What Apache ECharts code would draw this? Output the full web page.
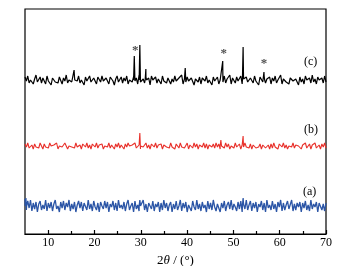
<!DOCTYPE html>
<html><head><meta charset="utf-8">
<script src="https://cdn.jsdelivr.net/npm/echarts@6/dist/echarts.min.js"></script>
<style>html,body{margin:0;padding:0;background:#fff}#c{width:346px;height:266px}</style>
</head><body><div id="c"></div>
<script>
// x range (2θ, degrees)
const xMin = 5, xMax = 70;
const majorTicks = [10, 20, 30, 40, 50, 60, 70];
const minorTicks = [15, 25, 35, 45, 55, 65];
// baselines (offset intensity units) for curves a, b, c
const baseA = 28, baseB = 88, baseC = 154;
const noiseC = [3,-1,4,-3,0,2,-4,1,5,-2,-1,3,-3,2,0,-4,4,-1,1,-5,
2,4,-2,0,-3,3,1,-4,2,-1,5,-3,0,2,-2,-4,3,1,-1,4,
-3,0,2,-5,3,-1,1,4,-2,-3,2,0,-4,3,1,-2,4,-1,-3,2,
0,-4,3,2,-1,-5,1,4,-2,0,3,-3,2,-1,4,-4,0,1,-2,3,
-1,2,-4,5,-2,0,1,-3,3,-1,2,-5,4,0,-2,3,-3,1,2,-4,
4,-1,0,-3,2,3,-4,1,-2,4,-1,-3,2,0,5,-4,1,-2,3,-1,
-3,2,4,-5,1,0,-2,3,-4,2,1,-1,4,-3,0,2,-5,3,-1,1,
3,-4,0,2,-2,4,-3,1,-1,5,-4,2,0,-3,3,-1,-2,4,-4,1,
0,3,-2,-4,2,1,-3,4,-1,0,-5,3,2,-2,4,-3,1,-1,3,-4,
2,-1,4,-3,0,-2,5,-4,1,3,-2,0,-4,2,4,-1,-3,1,2,-5,
3,-2,1,-4,4,0,-1,2,-3,5,-2,1,-4,3,0,-1,2,-3,4,-2];
const noiseB = [2,-1,3,-2,0,1,-3,2,-1,1,-2,3,0,-3,2,-1,1,-2,3,0,
-2,1,-1,3,-3,0,2,-1,-2,3,1,-3,0,2,-1,1,-2,3,-1,0,
1,-3,2,0,-1,3,-2,1,-3,2,0,-1,3,-2,1,-1,2,-3,0,2,
-1,3,-2,1,0,-3,2,-1,3,-2,1,0,-3,2,-1,3,0,-2,1,-1,
3,-2,0,1,-3,2,-1,0,3,-2,1,-3,2,0,-1,3,-2,1,-1,2,
-3,1,2,-1,0,-2,3,-1,1,-3,2,0,-2,3,-1,1,-2,0,3,-3,
1,0,-2,3,-1,2,-3,1,0,-1,3,-2,2,-3,1,0,-1,2,-2,3,
-1,2,-3,0,1,-2,3,-1,2,-3,0,1,-2,3,-1,0,2,-3,1,-1,
3,-1,0,-2,2,-3,1,3,-2,0,-1,2,-3,1,3,-2,0,1,-3,2,
-2,3,-1,1,-3,2,0,-1,3,-2,1,-3,0,2,-1,3,-2,1,-1,0,
2,-3,1,-1,3,-2,0,2,-3,1,-1,3,-2,0,1,-3,2,-1,3,-2];
const noiseA = [7,-4,5,-2,6,-5,3,-3,4,-6,2,5,-4,1,-3,6,-5,3,-2,4,
-5,2,6,-3,0,-6,4,-2,5,-4,3,-1,6,-5,2,-3,4,-6,1,5,
-2,4,-5,3,1,-4,6,-3,2,-5,5,-1,-4,3,-6,4,0,-3,5,-2,
4,-6,2,-1,5,-4,3,-5,6,-2,1,-3,4,-5,2,6,-4,0,3,-6,
5,-3,1,-5,4,-2,6,-4,2,-6,3,0,-3,5,-5,2,-1,4,-6,3,
-4,6,-2,3,-5,1,4,-6,2,-3,5,-4,0,6,-5,3,-2,4,-6,1,
3,-5,5,-1,-4,6,-3,2,-5,4,-2,1,-6,5,-3,3,-4,6,-1,-5,
2,4,-6,3,-2,5,-5,1,4,-3,6,-4,2,-1,-5,4,-3,5,-6,2,
-3,6,-4,1,5,-5,3,-2,4,-6,2,-1,5,-4,3,-6,6,-2,1,-4,
5,-3,2,-6,4,-1,6,-5,3,-4,1,5,-3,-2,6,-5,2,-4,3,-1,
4,-6,3,-2,5,-4,1,-5,6,-3,2,-1,4,-6,3,5,-4,2,-5,3];
// peaks: [2θ, height above baseline]
const peaksC = [[15.6,10],[28.6,24],[29.8,35],[31.1,11],[39.6,12],[47.7,19],[52.1,33],[56.6,8]];
const peaksB = [[29.8,13],[47.3,6],[52.1,10]];
const peaksA = [[5.2,8],[29.8,6],[52.1,8]];
// asterisk annotations [2θ, y]
const stars = [[28.8,183],[47.9,180],[56.6,170]];
const labelsABC = ['(a)', '(b)', '(c)'];

function build(noise, base, peaks) {
  const n = noise.length, pts = [];
  for (let i = 0; i < n; i++) {
    const x = xMin + i * (xMax - xMin) / (n - 1);
    pts.push([x, base + noise[i]]);
  }
  peaks.forEach(([px, h]) => {
    pts.push([px - 0.15, base]);
    pts.push([px, base + h]);
    pts.push([px + 0.15, base]);
  });
  pts.sort((a, b) => a[0] - b[0]);
  return pts;
}

const serif = 'Liberation Serif';
const chart = echarts.init(document.getElementById('c'), null, {renderer: 'canvas'});
chart.setOption({
  animation: false,
  backgroundColor: '#fff',
  grid: {left: 25, right: 20, top: 9, bottom: 32, outerBoundsMode: 'none', containLabel: false, show: true, borderColor: '#000', borderWidth: 1.2, backgroundColor: 'transparent'},
  xAxis: [{
    type: 'value', min: xMin, max: xMax, position: 'bottom',
    axisLine: {show: true, lineStyle: {color: '#000', width: 1.2}},
    axisTick: {show: true, inside: true, length: 4, customValues: majorTicks, lineStyle: {color: '#000', width: 1.2}},
    axisLabel: {customValues: majorTicks, fontFamily: serif, fontSize: 12, color: '#000', margin: 3},
    splitLine: {show: false},
    name: '2{i|θ} / (°)', nameLocation: 'middle', nameGap: 16,
    nameTextStyle: {fontFamily: serif, fontSize: 13, color: '#000', rich: {i: {fontStyle: 'italic', fontFamily: serif, fontSize: 13}}}
  }, {
    type: 'value', min: xMin, max: xMax, position: 'bottom', offset: 0,
    axisLine: {show: false},
    axisTick: {show: true, inside: true, length: 3, customValues: minorTicks, lineStyle: {color: '#000', width: 1.2}},
    axisLabel: {show: false}, splitLine: {show: false}
  }],
  yAxis: {type: 'value', min: 0, max: 225, show: false},
  series: [
    {type: 'line', data: build(noiseA, baseA, peaksA), symbol: 'none', lineStyle: {color: '#2b55a6', width: 1.3}, z: 2},
    {type: 'line', data: build(noiseB, baseB, peaksB), symbol: 'none', lineStyle: {color: '#e8302a', width: 1.1}, z: 3},
    {type: 'line', data: build(noiseC, baseC, peaksC), symbol: 'none', lineStyle: {color: '#000', width: 1.2}, z: 4},
    {type: 'scatter', data: stars, symbolSize: 0, label: {show: true, formatter: '*', position: 'inside', fontFamily: serif, fontSize: 13, fontWeight: 'bold', color: '#222'}, z: 5}
  ],
  graphic: [
    {type: 'text', left: 303, top: 185.5, style: {text: labelsABC[0], font: '12px "Liberation Serif"', fill: '#000'}},
    {type: 'text', left: 304, top: 124, style: {text: labelsABC[1], font: '12px "Liberation Serif"', fill: '#000'}},
    {type: 'text', left: 304, top: 56, style: {text: labelsABC[2], font: '12px "Liberation Serif"', fill: '#000'}}
  ]
});
</script></body></html>
